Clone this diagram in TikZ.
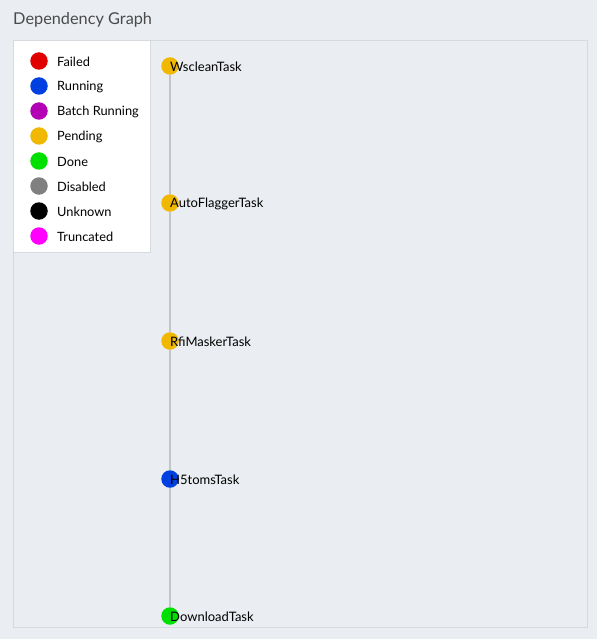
\documentclass[tikz,border=0pt]{standalone}
\usepackage{fontspec}
\setmainfont{Lato}
\usetikzlibrary{positioning}
\definecolor{pagebg}{HTML}{EAEDF2}
\definecolor{framegray}{HTML}{D6D9DD}
\definecolor{edgegray}{HTML}{C2C5C9}
\definecolor{titlegray}{HTML}{4A4A4A}
\definecolor{failed}{HTML}{E00000}
\definecolor{running}{HTML}{0040E0}
\definecolor{batch}{HTML}{B400B4}
\definecolor{pending}{HTML}{F0B800}
\definecolor{done}{HTML}{00E000}
\definecolor{disabled}{HTML}{808080}
\definecolor{unknown}{HTML}{000000}
\definecolor{truncated}{HTML}{FF00FF}
\pgfdeclarelayer{bg}
\pgfdeclarelayer{edges}
\pgfsetlayers{bg,edges,main}
\begin{document}
\begin{tikzpicture}[x=1pt,y=-1pt,
  dot/.style={circle,minimum size=17.5pt,inner sep=0pt},
  lbl/.style={anchor=west,inner sep=0pt,font=\fontsize{12.8}{15}\selectfont},
  tasklbl/.style={lbl,yshift=-0.8pt,font=\fontsize{13}{15}\selectfont},
  edge/.style={edgegray,line width=1.6pt}]
\useasboundingbox (0,0) rectangle (597,639);
\begin{pgfonlayer}{bg}
\fill[pagebg] (0,0) rectangle (597,639);
\draw[framegray,line width=1pt] (13.5,40.5) rectangle (587.5,627.5);
\draw[framegray,line width=1pt,fill=white] (13.5,40.5) rectangle (150.5,252.5);
\end{pgfonlayer}
%
\node[anchor=base west,inner sep=0pt,text=titlegray,font=\fontsize{16.3}{19}\selectfont] (title) at (13,25) {Dependency Graph};
%
% legend
\foreach \st/\col [count=\i] in {Failed/failed,Running/running,Batch Running/batch,Pending/pending,Done/done,Disabled/disabled,Unknown/unknown,Truncated/truncated}
{
\node[dot,fill=\col] (key\i) at (39,36+25*\i) {};
\node[lbl] (keytext\i) at (57,36.8+25*\i) {\st};
}
%
% tasks
\node[dot,fill=pending] (wsclean) at (170,66) {};
\node[dot,fill=pending] (autoflagger) at (170,203) {};
\node[dot,fill=pending] (rfimasker) at (170,341) {};
\node[dot,fill=running] (h5toms) at (170,479) {};
\node[dot,fill=done] (download) at (170,616) {};
\node[tasklbl] at (wsclean.center) {WscleanTask};
\node[tasklbl] at (autoflagger.center) {AutoFlaggerTask};
\node[tasklbl] at (rfimasker.center) {RfiMaskerTask};
\node[tasklbl] at (h5toms.center) {H5tomsTask};
\node[tasklbl] at (download.center) {DownloadTask};
%
\begin{pgfonlayer}{edges}
\draw[edge] (download) -- (h5toms);
\draw[edge] (h5toms) -- (rfimasker);
\draw[edge] (rfimasker) -- (autoflagger);
\draw[edge] (autoflagger) -- (wsclean);
\end{pgfonlayer}
\end{tikzpicture}
\end{document}
